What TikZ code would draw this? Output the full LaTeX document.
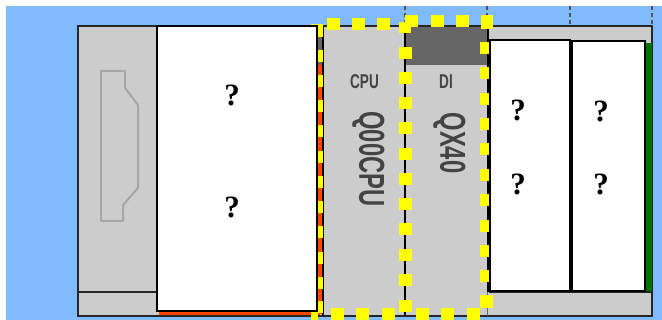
\documentclass[tikz,border=0pt]{standalone}
\usepackage{fontspec}
\setmainfont{Liberation Serif}
\setsansfont{Liberation Sans}
\definecolor{skyb}{HTML}{80BBFF}
\definecolor{panel}{HTML}{CCCCCC}
\definecolor{darkp}{HTML}{666666}
\definecolor{redp}{HTML}{FF4500}
\definecolor{greenp}{HTML}{007000}
\definecolor{yel}{HTML}{FFFF00}
\definecolor{labelc}{HTML}{444444}
\tikzset{
  qmark/.style={font=\fontsize{31}{31}\selectfont\bfseries,inner sep=0pt,text=black},
  smalllabel/.style={font=\sffamily\bfseries\fontsize{20}{20}\selectfont,inner sep=0pt,text=labelc,xscale=.68},
  biglabel/.style={font=\sffamily\bfseries\fontsize{36}{36}\selectfont,inner sep=0pt,text=labelc,rotate=-90,xscale=.66},
  whitebox/.style={fill=white,draw=black,line width=2pt},
  tick/.style={draw=darkp!80!black,line width=1.5pt,dash pattern=on 4pt off 3pt},
  frameline/.style={draw=black!85,line width=1.5pt},
}
\begin{document}
\begin{tikzpicture}[x=1pt,y=-1pt]
\useasboundingbox (0,0) rectangle (662,320);
\fill[white] (0,0) rectangle (662,320);
\fill[skyb] (6,6) rectangle (662,320);
% ticks above the chassis
\foreach \x in {405,487,570,652} \draw[tick] (\x,6) -- (\x,26);
% chassis
\fill[panel] (78,26) rectangle (652,316);
\draw[frameline] (78,26) rectangle (652,316);
\draw[frameline] (78,292) -- (157,292);
\draw[frameline] (489,292) -- (652,292);
\draw[draw=darkp,line width=.8pt] (487,292) -- (487,316);
% handle
\draw[draw=black!35,line width=2pt,fill=panel,line join=round]
  (101,71) -- (125,71) -- (125,88) -- (138,105) -- (138,188) -- (123,205) -- (123,221) -- (101,221) -- cycle;
% strips
\fill[darkp] (318,26) rectangle (323,65);
\fill[redp] (318,65) rectangle (322,314);
\fill[black] (322,26) rectangle (324,316);
\fill[redp] (159,311) rectangle (320,315);
% modules
\fill[darkp] (406,27) rectangle (487,65);
\draw[draw=black,line width=1.5pt] (405,26) -- (405,316);
\draw[draw=black,line width=2pt] (488,27) -- (488,292);
\fill[greenp] (646,43) rectangle (652,291);
% yellow selection
\begin{scope}[yel]
\foreach \x in {327,352,377} \fill (\x,18) rectangle +(12.5,12.5);
\foreach \x in {405,431,456,480.5} \fill (\x,15) rectangle +(12.5,12.5);
\fill (399,22) rectangle (411,33);
\fill (480.5,22) rectangle (493,29);
\foreach \y in {25,50,75,100,125,151,176,201,226,252,277,301} \fill (318,\y) rectangle +(5,12.5);
\fill (311,24) rectangle (323,27);
\foreach \y in {47,72,97,122,148,173,198,223,249,274,300} \fill (399,\y) rectangle +(12.5,12.5);
\foreach \y in {42,67,93,118,143,169,194,220,245,270} \fill (480,\y) rectangle +(10,12.5);
\fill (480,295) rectangle (493,308);
\foreach \x in {331,356,382,416,441,467} \fill (\x,308) rectangle +(12.5,12);
\fill (311,312) rectangle (318,320);
\end{scope}
% white modules
\draw[whitebox] (157,26) rectangle (317,311);
\draw[whitebox] (490,40) rectangle (570,291);
\draw[whitebox] (572,41) rectangle (645,291);
% labels
\node[smalllabel] (cpu) at (364.5,82) {CPU};
\node[smalllabel] (di) at (446,82) {DI};
\node[biglabel] (q00) at (368.5,159) {Q00CPU};
\node[biglabel] (qx) at (449.5,143) {QX40};
\node[qmark] (q1) at (232,95) {?};
\node[qmark] (q2) at (232,207) {?};
\node[qmark] (q3) at (518,110) {?};
\node[qmark] (q4) at (518,184) {?};
\node[qmark] (q5) at (601,111) {?};
\node[qmark] (q6) at (601,184) {?};
\end{tikzpicture}
\end{document}
